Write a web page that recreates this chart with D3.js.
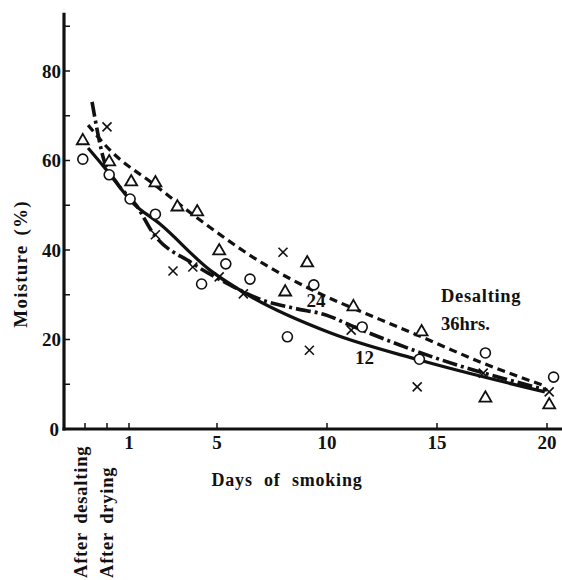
<!DOCTYPE html>
<html>
<head>
<meta charset="utf-8">
<script src="https://cdn.jsdelivr.net/npm/d3@7"></script>
<style>
  html, body { margin: 0; padding: 0; background: #fff; }
  svg text { font-family: "Liberation Serif", "DejaVu Serif", serif; font-weight: bold; fill: #111; }
</style>
</head>
<body>
<svg id="chart" width="562" height="580"></svg>
<script>
// data: days of smoking (-1 = after desalting, 0 = after drying), moisture %
const triDays   = [-1.1, 0.1, 1.1, 2.2, 3.2, 4.1, 5.1, 8.1, 9.1, 11.2, 14.3, 17.2, 20.1];
const triMoist  = [64.4, 59.7, 55.2, 55.0, 49.6, 48.5, 39.8, 30.6, 37.1, 27.3, 21.7, 6.9, 5.4];
const circDays  = [-1.1, 0.1, 1.05, 2.2, 4.3, 5.4, 6.5, 8.2, 9.4, 11.6, 14.2, 17.2, 20.3];
const circMoist = [60.3, 56.8, 51.4, 48.0, 32.4, 36.9, 33.5, 20.6, 32.2, 22.8, 15.6, 17.0, 11.6];
const crossDays  = [0, 2.2, 3.0, 3.9, 5.1, 6.2, 8.0, 9.2, 11.1, 14.1, 17.1, 20.1];
const crossMoist = [67.5, 43.4, 35.3, 36.2, 34.0, 30.2, 39.5, 17.6, 22.1, 9.4, 12.5, 8.3];

// fitted curves
const curve36Days  = [-0.86, 0.14, 2.18, 4.23, 7.09, 9.36, 12.4, 14.1, 17.1, 19.8];
const curve36Moist = [67.9, 62.3, 54.5, 46.7, 37.0, 31.0, 24.5, 21.0, 14.7, 9.8];
const curve24Days  = [-0.68, -0.14, 0.45, 1.36, 2.09, 3.86, 5.59, 6.95, 8.5, 10.0, 11.05, 14.8, 20.0];
const curve24Moist = [73.1, 60.1, 55.0, 49.8, 43.8, 37.1, 32.2, 29.0, 27.0, 25.4, 23.2, 16.1, 8.7];
const curve12Days  = [-0.86, -0.09, 1.18, 2.41, 4.68, 6.5, 10.14, 14.2, 19.9];
const curve12Moist = [62.8, 58.3, 50.5, 45.8, 35.5, 29.7, 21.5, 15.4, 8.3];

const xTickValues = [-1, 0, 1, 5, 10, 15, 20];
const xTickLabels = ['', '', '1', '5', '10', '15', '20'];
const yMajorTicks = [0, 20, 40, 60, 80];
const yMinorTicks = [10, 30, 50, 70, 90];
const curveLabels = ['24', '12'];

const svg = d3.select('#chart');

const x = d3.scaleLinear().domain([0, 20]).range([107, 547]);
const y = d3.scaleLinear().domain([0, 80]).range([429, 71]);
const axisX = 64;

// axes lines
svg.append('line')
    .attr('x1', axisX).attr('x2', axisX)
    .attr('y1', y(93)).attr('y2', y(0) + 1.5)
    .attr('stroke', '#111').attr('stroke-width', 3.2);

svg.append('line')
    .attr('x1', axisX - 1.5).attr('x2', 562)
    .attr('y1', y(0)).attr('y2', y(0))
    .attr('stroke', '#111').attr('stroke-width', 3);

// y ticks (inward)
svg.append('g').selectAll('line')
    .data(yMajorTicks.concat(yMinorTicks))
    .join('line')
    .attr('x1', axisX).attr('x2', axisX + 6)
    .attr('y1', d => y(d)).attr('y2', d => y(d))
    .attr('stroke', '#111').attr('stroke-width', 1.5);

svg.append('g').selectAll('text')
    .data(yMajorTicks)
    .join('text')
    .attr('x', d => d === 0 ? axisX - 5 : axisX - 3)
    .attr('y', d => y(d))
    .attr('dy', '0.35em')
    .attr('text-anchor', 'end')
    .style('font-size', '19px')
    .text(d => d);

// x ticks (upward)
svg.append('g').selectAll('line')
    .data(xTickValues)
    .join('line')
    .attr('x1', d => x(d)).attr('x2', d => x(d))
    .attr('y1', y(0)).attr('y2', y(0) - 6)
    .attr('stroke', '#111').attr('stroke-width', 1.5);

svg.append('g').selectAll('text')
    .data(xTickValues)
    .join('text')
    .attr('x', d => x(d))
    .attr('y', y(0) + 20)
    .attr('text-anchor', 'middle')
    .style('font-size', '19px')
    .text((d, i) => xTickLabels[i]);

// axis titles
svg.append('text')
    .attr('transform', `translate(27, 264) rotate(-90)`)
    .attr('text-anchor', 'middle')
    .style('font-size', '19px')
    .style('letter-spacing', '1.2px')
    .style('word-spacing', '3px')
    .text('Moisture (%)');

svg.append('text')
    .attr('x', 287).attr('y', 486)
    .attr('text-anchor', 'middle')
    .style('font-size', '18px')
    .style('letter-spacing', '0.8px')
    .style('word-spacing', '6px')
    .text('Days of smoking');

svg.append('text')
    .attr('transform', `translate(${x(-1) + 2}, 578) rotate(-90)`)
    .attr('text-anchor', 'start')
    .style('font-size', '18.5px')
    .style('letter-spacing', '0.8px')
    .style('word-spacing', '3px')
    .text('After desalting');

svg.append('text')
    .attr('transform', `translate(${x(0) + 6}, 578) rotate(-90)`)
    .attr('text-anchor', 'start')
    .style('font-size', '18.5px')
    .style('letter-spacing', '0.8px')
    .style('word-spacing', '3px')
    .text('After drying');

// curves
const line = d3.line()
    .x(d => x(d[0]))
    .y(d => y(d[1]))
    .curve(d3.curveMonotoneX);

svg.append('path')
    .attr('d', line(d3.zip(curve36Days, curve36Moist)))
    .attr('fill', 'none').attr('stroke', '#111')
    .attr('stroke-width', 3.2)
    .attr('stroke-dasharray', '8,5');

svg.append('path')
    .attr('d', line(d3.zip(curve24Days, curve24Moist)))
    .attr('fill', 'none').attr('stroke', '#111')
    .attr('stroke-width', 3.6)
    .attr('stroke-dasharray', '15,4,3,4');

svg.append('path')
    .attr('d', line(d3.zip(curve12Days, curve12Moist)))
    .attr('fill', 'none').attr('stroke', '#111')
    .attr('stroke-width', 3.2);

// markers
const triangle = d3.symbol().type(d3.symbolTriangle).size(62);

svg.append('g').selectAll('path')
    .data(d3.zip(triDays, triMoist))
    .join('path')
    .attr('transform', d => `translate(${x(d[0])}, ${y(d[1])})`)
    .attr('d', triangle)
    .attr('fill', '#fff').attr('stroke', '#111').attr('stroke-width', 1.8);

svg.append('g').selectAll('circle')
    .data(d3.zip(circDays, circMoist))
    .join('circle')
    .attr('cx', d => x(d[0])).attr('cy', d => y(d[1]))
    .attr('r', 5)
    .attr('fill', '#fff').attr('stroke', '#111').attr('stroke-width', 1.6);

const cross = svg.append('g').selectAll('g')
    .data(d3.zip(crossDays, crossMoist))
    .join('g')
    .attr('transform', d => `translate(${x(d[0])}, ${y(d[1])})`);
cross.append('line').attr('x1', -4.5).attr('y1', -4.5).attr('x2', 4.5).attr('y2', 4.5)
    .attr('stroke', '#111').attr('stroke-width', 1.6);
cross.append('line').attr('x1', -4.5).attr('y1', 4.5).attr('x2', 4.5).attr('y2', -4.5)
    .attr('stroke', '#111').attr('stroke-width', 1.6);

// curve labels
svg.append('text')
    .attr('x', x(9.5)).attr('y', y(27.2))
    .attr('text-anchor', 'middle')
    .style('font-size', '19px')
    .text(curveLabels[0]);

svg.append('text')
    .attr('x', x(11.7)).attr('y', y(14.5))
    .attr('text-anchor', 'middle')
    .style('font-size', '19px')
    .text(curveLabels[1]);

svg.append('text')
    .attr('x', 441).attr('y', 302)
    .style('font-size', '18.5px')
    .style('letter-spacing', '0.7px')
    .text('Desalting');

svg.append('text')
    .attr('x', 441).attr('y', 330)
    .style('font-size', '18.5px')
    .text('36hrs.');
</script>
</body>
</html>
